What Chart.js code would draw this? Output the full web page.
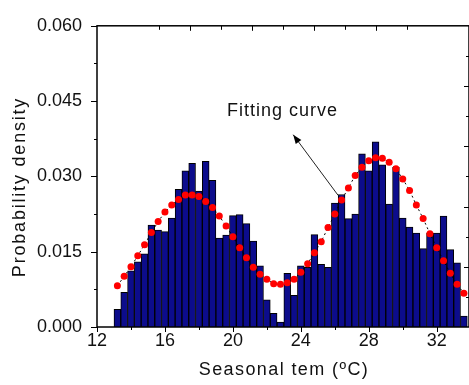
<!DOCTYPE html>
<html>
<head>
<meta charset="utf-8">
<script src="https://cdn.jsdelivr.net/npm/chart.js@4/dist/chart.umd.min.js"></script>
<style>
  html, body { margin: 0; padding: 0; background: #fff; overflow: hidden; }
  #chart { display: block; }
</style>
</head>
<body>
<canvas id="chart" width="469" height="385"></canvas>
<script>
// histogram bins (centre of each 0.4 degree bin)
const binCenters = [
  13.2, 13.6, 14.0, 14.4, 14.8, 15.2, 15.6, 16.0, 16.4, 16.8,
  17.2, 17.6, 18.0, 18.4, 18.8, 19.2, 19.6, 20.0, 20.4, 20.8,
  21.2, 21.6, 22.0, 22.4, 22.8, 23.2, 23.6, 24.0, 24.4, 24.8,
  25.2, 25.6, 26.0, 26.4, 26.8, 27.2, 27.6, 28.0, 28.4, 28.8,
  29.2, 29.6, 30.0, 30.4, 30.8, 31.2, 31.6, 32.0, 32.4, 32.8,
  33.2, 33.6
];

// probability density of each bin
const density = [
  0.0035, 0.0069, 0.0112, 0.0130, 0.0146, 0.0203, 0.0193, 0.0190, 0.0217, 0.0274,
  0.0311, 0.0326, 0.0271, 0.0330, 0.0292, 0.0177, 0.0183, 0.0222, 0.0224, 0.0206,
  0.0171, 0.0122, 0.0054, 0.0027, 0.0010, 0.0107, 0.0063, 0.0122, 0.0119, 0.0184,
  0.0125, 0.0119, 0.0247, 0.0264, 0.0216, 0.0225, 0.0345, 0.0311, 0.0369, 0.0323,
  0.0245, 0.0318, 0.0217, 0.0199, 0.0187, 0.0156, 0.0187, 0.0187, 0.0221, 0.0154,
  0.0128, 0.0022
];

// fitted curve, read at the same bin centres
const fitted = [
  0.0082, 0.0101, 0.0120, 0.0142, 0.0164, 0.0188, 0.0210, 0.0229, 0.0243, 0.0254,
  0.0263, 0.0263, 0.0260, 0.0250, 0.0238, 0.0221, 0.0201, 0.0180, 0.0158, 0.0138,
  0.0119, 0.0105, 0.0095, 0.0086, 0.0085, 0.0088, 0.0095, 0.0109, 0.0126, 0.0148,
  0.0170, 0.0198, 0.0225, 0.0253, 0.0277, 0.0302, 0.0318, 0.0331, 0.0337, 0.0336,
  0.0328, 0.0315, 0.0295, 0.0272, 0.0243, 0.0216, 0.0186, 0.0158, 0.0132, 0.0107,
  0.0085, 0.0067
];

const xTitle = "Seasonal tem (\u00baC)";
const yTitle = "Probability density";
const noteText = "Fitting curve";
// annotation in data units
const notePos = [19.65, 0.0420];
const arrowFrom = [26.2, 0.0262];
const arrowTo = [23.55, 0.0383];

const FONT = "'Liberation Sans', Arial, sans-serif";

// frame, small tick marks, titles and the annotation arrow
const decorations = {
  id: "decorations",
  afterDatasetsDraw(chart) {
    const { ctx, chartArea: a, scales } = chart;
    const x = scales.x, y = scales.y, x2 = scales.x2, y2 = scales.y2;
    ctx.save();
    ctx.strokeStyle = "#000";
    ctx.lineWidth = 1.5;
    ctx.strokeRect(a.left, a.top, a.right - a.left, a.bottom - a.top);

    ctx.lineWidth = 1;
    ctx.beginPath();
    // bottom: every 2 degrees, long at multiples of 4
    for (let i = 0; 12 + i * 2 <= 33.9; i++) {
      const px = Math.round(x.getPixelForValue(12 + i * 2)) + 0.5;
      const len = i % 2 === 0 ? 5 : 3;
      ctx.moveTo(px, a.bottom);
      ctx.lineTo(px, a.bottom + len);
    }
    // left: every 0.0075, long at 0.015
    for (let i = 0; i <= 8; i++) {
      const py = Math.round(y.getPixelForValue(i * 0.0075)) + 0.5;
      const len = i % 2 === 0 ? 6 : 3;
      ctx.moveTo(a.left - len, py);
      ctx.lineTo(a.left, py);
    }
    // top: inward ticks
    for (let i = 1; i < 10; i++) {
      const px = Math.round(x2.getPixelForValue(i)) + 0.5;
      const len = i % 2 === 0 ? 5 : 4;
      ctx.moveTo(px, a.top);
      ctx.lineTo(px, a.top + len);
    }
    // right: inward ticks
    for (let i = 1; i < 10; i++) {
      const py = Math.round(y2.getPixelForValue(i * 0.5)) + 0.5;
      const len = i % 2 === 0 ? 5 : 3;
      ctx.moveTo(a.right - len, py);
      ctx.lineTo(a.right, py);
    }
    ctx.stroke();

    ctx.fillStyle = "#111";
    ctx.font = "18px " + FONT;

    // x title
    ctx.letterSpacing = "1.4px";
    ctx.textAlign = "center";
    ctx.textBaseline = "alphabetic";
    ctx.fillText(xTitle, 284, 375);

    // y title
    ctx.save();
    ctx.translate(25, 187);
    ctx.rotate(-Math.PI / 2);
    ctx.letterSpacing = "1.8px";
    ctx.fillText(yTitle, 0, 0);
    ctx.restore();

    // annotation
    ctx.letterSpacing = "1px";
    ctx.textAlign = "left";
    ctx.fillText(noteText, x.getPixelForValue(notePos[0]), y.getPixelForValue(notePos[1]));

    const fx = x.getPixelForValue(arrowFrom[0]), fy = y.getPixelForValue(arrowFrom[1]);
    const tx = x.getPixelForValue(arrowTo[0]), ty = y.getPixelForValue(arrowTo[1]);
    ctx.strokeStyle = "#222";
    ctx.lineWidth = 1;
    ctx.beginPath();
    ctx.moveTo(fx, fy);
    ctx.lineTo(tx, ty);
    ctx.stroke();
    const ang = Math.atan2(ty - fy, tx - fx);
    ctx.fillStyle = "#000";
    ctx.beginPath();
    ctx.moveTo(tx, ty);
    ctx.lineTo(tx - 9 * Math.cos(ang) + 3.5 * Math.sin(ang), ty - 9 * Math.sin(ang) - 3.5 * Math.cos(ang));
    ctx.lineTo(tx - 9 * Math.cos(ang) - 3.5 * Math.sin(ang), ty - 9 * Math.sin(ang) + 3.5 * Math.cos(ang));
    ctx.closePath();
    ctx.fill();
    ctx.restore();
  }
};

new Chart("chart", {
  type: "bar",
  data: {
    datasets: [
      {
        type: "line",
        data: binCenters.map((c, i) => ({ x: c, y: fitted[i] })),
        borderColor: "#000",
        borderWidth: 1,
        borderDash: [2, 3],
        pointRadius: 3.5,
        pointBackgroundColor: "#ff0000",
        pointBorderWidth: 0,
        order: 1
      },
      {
        type: "bar",
        data: binCenters.map((c, i) => ({ x: c, y: density[i] })),
        backgroundColor: "#0c0c8c",
        borderColor: "#000",
        borderWidth: 1,
        barPercentage: 1,
        categoryPercentage: 1,
        order: 2
      }
    ]
  },
  options: {
    responsive: false,
    animation: false,
    layout: { autoPadding: false, padding: { top: 18, right: 0, left: 0, bottom: 0 } },
    plugins: { legend: { display: false }, tooltip: { enabled: false } },
    scales: {
      x: {
        type: "linear",
        offset: false,
        min: 12,
        max: 33.9,
        grid: { display: false, drawTicks: false, offset: false },
        border: { display: false },
        ticks: {
          stepSize: 4,
          includeBounds: false,
          padding: 3,
          color: "#111",
          font: { family: FONT, size: 18 },
          maxRotation: 0
        },
        afterFit: s => { s.height = 58; }
      },
      y: {
        min: 0,
        max: 0.06,
        grid: { display: false, drawTicks: false },
        border: { display: false },
        ticks: {
          stepSize: 0.015,
          padding: 15,
          color: "#111",
          font: { family: FONT, size: 18 },
          callback: v => v.toFixed(3)
        },
        afterFit: s => { s.width = 97; }
      },
      x2: { type: "linear", position: "top", min: 0, max: 10, display: false },
      y2: { type: "linear", position: "right", min: 0, max: 5, display: false }
    }
  },
  plugins: [decorations]
});
</script>
</body>
</html>
